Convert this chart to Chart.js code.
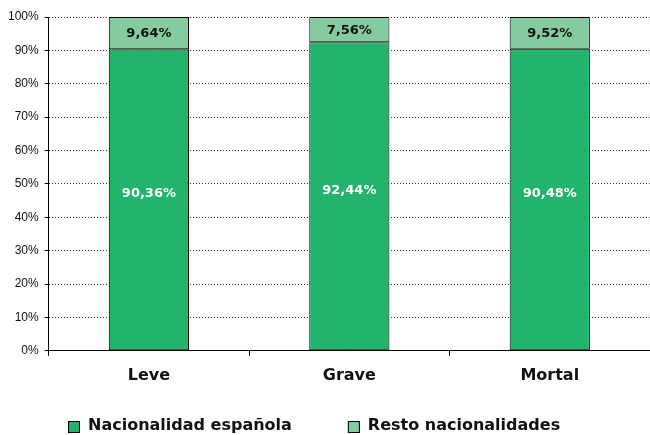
<!DOCTYPE html>
<html><head><meta charset="utf-8">
<script src="https://cdn.jsdelivr.net/npm/chart.js@4/dist/chart.umd.min.js"></script>
<style>html,body{margin:0;padding:0;background:#fff}#c{display:block}</style>
</head><body>
<canvas id="c" width="650" height="435"></canvas>
<script>
const categories = ['Leve', 'Grave', 'Mortal'];
const seriesNames = ['Nacionalidad española', 'Resto nacionalidades'];
const espanola = [90.36, 92.44, 90.48];
const resto = [9.64, 7.56, 9.52];
const yTicks = [0, 10, 20, 30, 40, 50, 60, 70, 80, 90, 100];

const fmt = v => v.toFixed(2).replace('.', ',') + '%';

const labelPlugin = {
  id: 'barLabels',
  afterDatasetsDraw(chart) {
    const ctx = chart.ctx;
    ctx.save();
    ctx.font = 'bold 13px "DejaVu Sans"';
    ctx.textAlign = 'center';
    ctx.textBaseline = 'middle';
    chart.data.datasets.forEach((ds, di) => {
      const meta = chart.getDatasetMeta(di);
      meta.data.forEach((bar, i) => {
        const p = bar.getProps(['x', 'y', 'base'], true);
        ctx.fillStyle = di === 0 ? '#ffffff' : '#111111';
        const dy = di === 0 ? -6 : 1;
        ctx.fillText(fmt(ds.data[i]), p.x, (p.y + p.base) / 2 + dy);
      });
    });
    ctx.restore();
  }
};

const legendPlugin = {
  id: 'customLegend',
  afterDraw(chart) {
    const ctx = chart.ctx;
    ctx.save();
    ctx.font = 'bold 16px "DejaVu Sans"';
    ctx.textBaseline = 'middle';
    ctx.textAlign = 'left';
    const box = 12, gapText = 8, gapItem = 56;
    const items = chart.data.datasets.map(ds => ({
      text: ds.label, fill: ds.backgroundColor, stroke: ds.borderColor,
      w: box + gapText + ctx.measureText(ds.label).width
    }));
    const total = items.reduce((s, it) => s + it.w, 0) + gapItem * (items.length - 1);
    let x = Math.round(chart.width / 2 - total / 2 - 11);
    const cy = 426;
    items.forEach(it => {
      ctx.fillStyle = it.fill;
      ctx.fillRect(x, cy - 5, box, box);
      ctx.strokeStyle = it.stroke;
      ctx.lineWidth = 1;
      ctx.strokeRect(x + 0.5, cy - 5 + 0.5, box - 1, box - 1);
      ctx.fillStyle = '#111';
      ctx.fillText(it.text, x + box + gapText, cy);
      x += it.w + gapItem;
    });
    ctx.restore();
  }
};

new Chart(document.getElementById('c'), {
  type: 'bar',
  data: {
    labels: categories,
    datasets: [
      { label: seriesNames[0], data: espanola, backgroundColor: '#22b36c', borderColor: '#000000', borderWidth: 1, borderSkipped: false, categoryPercentage: 1, barPercentage: 0.4 },
      { label: seriesNames[1], data: resto, backgroundColor: '#84cc9f', borderColor: '#000000', borderWidth: 1, borderSkipped: false, categoryPercentage: 1, barPercentage: 0.4 }
    ]
  },
  options: {
    responsive: false,
    animation: false,
    layout: { padding: { top: 17, right: 0, left: 2, bottom: 40 } },
    plugins: {
      tooltip: { enabled: false },
      legend: { display: false }
    },
    scales: {
      x: {
        stacked: true,
        grid: { display: true, drawOnChartArea: false, drawTicks: true, tickLength: 5, color: '#000', offset: true },
        border: { display: true, color: '#000', width: 1 },
        ticks: { color: '#111', font: { family: 'DejaVu Sans', size: 16, weight: 'bold' }, padding: 10 }
      },
      y: {
        stacked: true,
        min: 0, max: 100,
        afterBuildTicks: axis => { axis.ticks = yTicks.map(v => ({ value: v })); },
        grid: { color: '#333', lineWidth: 1, drawTicks: true, tickLength: 4, tickColor: '#000' },
        border: { display: true, color: '#000', width: 1, dash: [1, 2] },
        ticks: { color: '#111', font: { family: 'Liberation Sans', size: 12 }, padding: 6, callback: v => v + '%' }
      }
    }
  },
  plugins: [labelPlugin, legendPlugin]
});
</script>
</body></html>
